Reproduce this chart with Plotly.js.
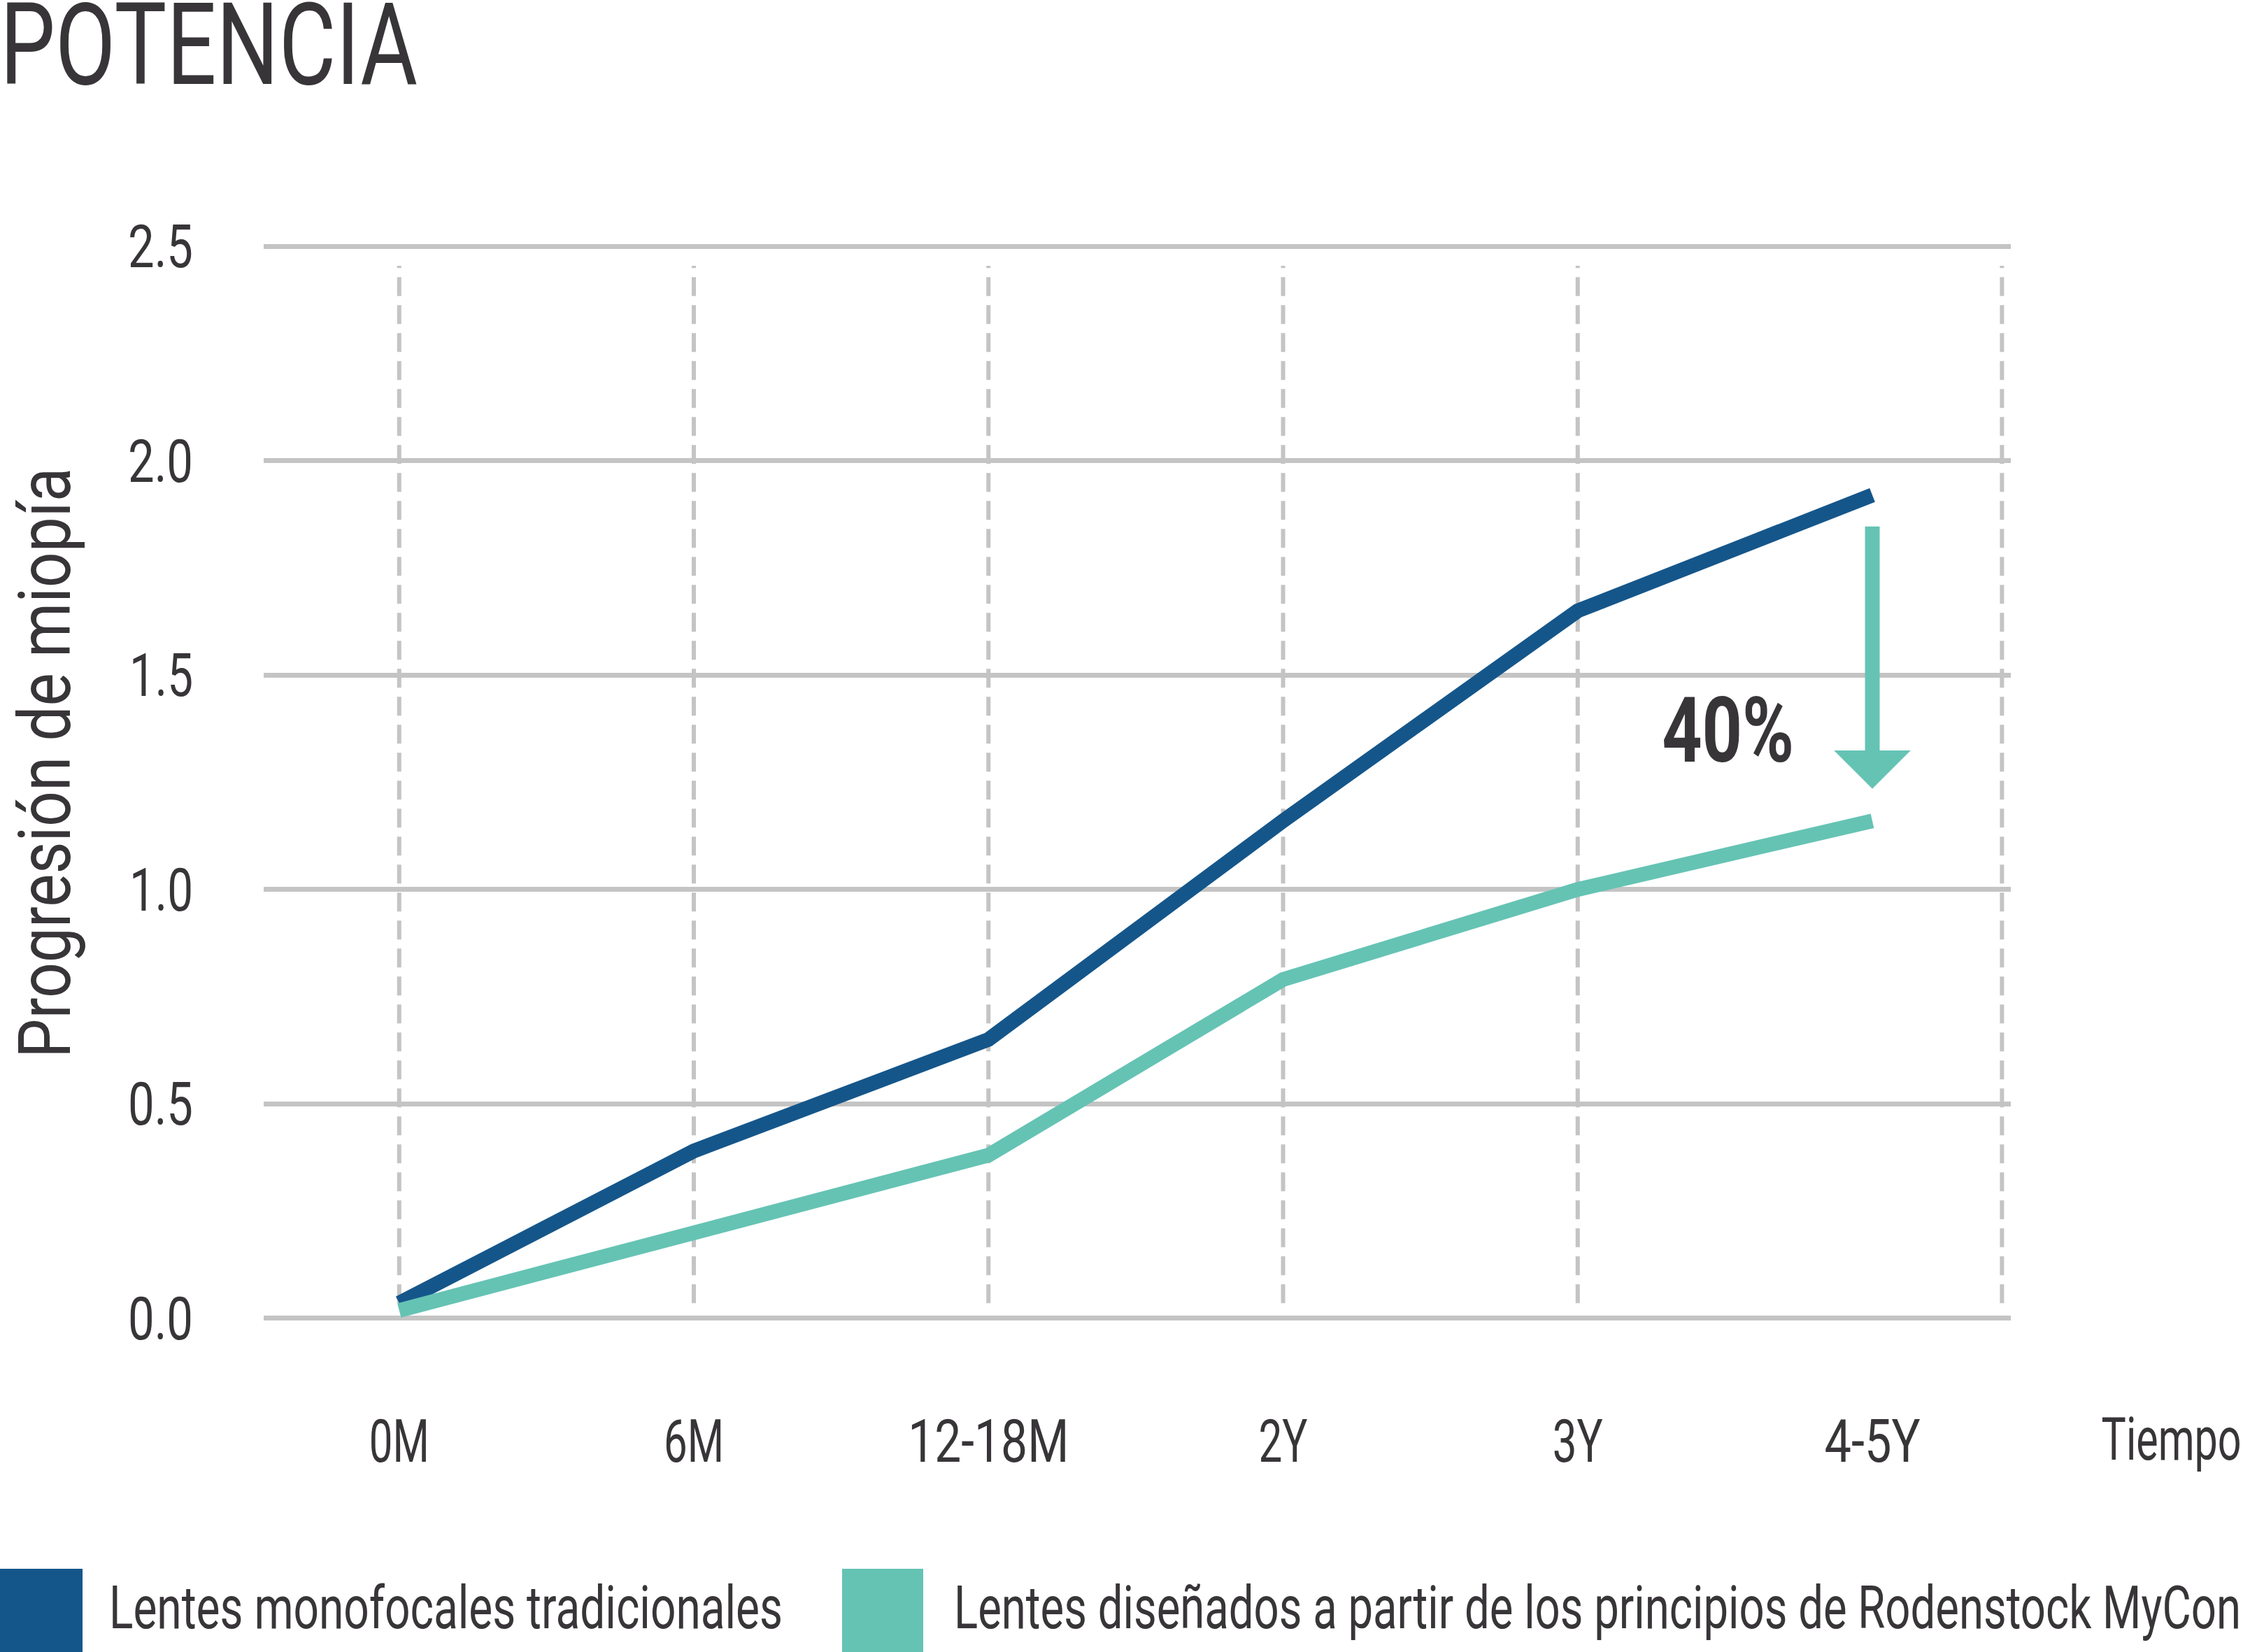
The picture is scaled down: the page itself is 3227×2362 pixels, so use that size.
<!DOCTYPE html>
<html><head><meta charset="utf-8">
<script src="https://cdn.plot.ly/plotly-3.0.1.min.js"></script>
<style>html,body{margin:0;padding:0;background:#fff;overflow:hidden;} #chart{width:3227px;height:2362px;}</style>
</head><body><div id="chart"></div>
<script>
// ---- data ----
const categories = ["0M", "6M", "12-18M", "2Y", "3Y", "4-5Y"];
const catX = [0, 1, 2, 3, 4, 5];
const monofocal = [0.035, 0.39, 0.65, 1.16, 1.65, 1.92];
const myCon = [0.018, 0.20, 0.38, 0.79, 1.00, 1.16];
const seriesNames = ["Lentes monofocales tradicionales", "Lentes diseñados a partir de los principios de Rodenstock MyCon"];
const yTicks = [0, 0.5, 1.0, 1.5, 2.0, 2.5];
const vGridX = [0, 1, 2, 3, 4, 5.44];
const reductionLabel = "40%";
const arrowFrom = 1.85, arrowTo = 1.235;
const timeLabel = "Tiempo";
const yTitle = "Progresión de miopía";
const chartTitle = "POTENCIA";

// ---- style ----
const W = 3227, H = 2362;
const L = 377, R = 352, T = 334, B = 459;
const PW = W - L - R, PH = H - T - B;
const FONT = 'Roboto, "DejaVu Sans", sans-serif';
const TXT = '#383538';
const BLUE = '#15568a', TEAL = '#65c3b4', GRID = '#c4c4c4';
const px = x => (x - L) / PW;
const py = y => (T + PH - y) / PH;
const textWidths = {
  "POTENCIA": 597, "Progresión de miopía": 844, "40%": 189, "Tiempo": 200,
  "0M": 86, "6M": 86, "12-18M": 230, "2Y": 70, "3Y": 72, "4-5Y": 137,
  "0.0": 93, "0.5": 93, "1.0": 91, "1.5": 91, "2.0": 93, "2.5": 93,
  "Lentes monofocales tradicionales": 963,
  "Lentes diseñados a partir de los principios de Rodenstock MyCon": 1840
};

const traces = [
  {x: catX, y: monofocal, type: 'scatter', mode: 'lines', name: seriesNames[0],
   line: {color: BLUE, width: 21}, hoverinfo: 'skip', cliponaxis: false},
  {x: catX, y: myCon, type: 'scatter', mode: 'lines', name: seriesNames[1],
   line: {color: TEAL, width: 21}, hoverinfo: 'skip', cliponaxis: false}
];

const shapes = vGridX.map(v => ({
  type: 'line', xref: 'x', yref: 'y', x0: v, x1: v, y0: 0.035, y1: 2.455,
  line: {color: GRID, width: 6, dash: '27px,13px'}, layer: 'below'
}));
shapes.push({type: 'rect', xref: 'paper', yref: 'paper', x0: px(0), x1: px(118), y0: py(2243), y1: py(2362),
  fillcolor: BLUE, line: {width: 0}});
shapes.push({type: 'rect', xref: 'paper', yref: 'paper', x0: px(1204), x1: px(1320), y0: py(2243), y1: py(2362),
  fillcolor: TEAL, line: {width: 0}});

const annotations = [
  {x: 5, y: arrowTo, ax: 5, ay: arrowFrom, axref: 'x', ayref: 'y', xref: 'x', yref: 'y',
   text: ' ', font: {size: 1}, showarrow: true, arrowhead: 1, arrowsize: 0.87, arrowwidth: 21, arrowcolor: TEAL},
  {x: 4.51, y: 1.37, xref: 'x', yref: 'y', text: reductionLabel, showarrow: false,
   font: {family: FONT, size: 130, color: TXT, weight: 'bold'}, xanchor: 'center', yanchor: 'middle'},
  {x: px(3104), y: py(2058), xref: 'paper', yref: 'paper', text: timeLabel, showarrow: false,
   font: {family: FONT, size: 85, color: TXT}, xanchor: 'center', yanchor: 'middle'},
  {x: px(64), y: py(1091), xref: 'paper', yref: 'paper', text: yTitle, showarrow: false, textangle: -90,
   font: {family: FONT, size: 104, color: TXT}, xanchor: 'center', yanchor: 'middle'},
  {x: px(154), y: py(2298), xref: 'paper', yref: 'paper', text: seriesNames[0], showarrow: false, align: 'left',
   font: {family: FONT, size: 86, color: TXT}, xanchor: 'left', yanchor: 'middle'},
  {x: px(1362), y: py(2298), xref: 'paper', yref: 'paper', text: seriesNames[1], showarrow: false, align: 'left',
   font: {family: FONT, size: 86, color: TXT}, xanchor: 'left', yanchor: 'middle'}
];

const layout = {
  width: W, height: H,
  margin: {l: L, r: R, t: T, b: B, pad: 0},
  paper_bgcolor: '#ffffff', plot_bgcolor: '#ffffff',
  showlegend: false,
  font: {family: FONT, color: TXT},
  title: {text: chartTitle, x: 0, xref: 'container', xanchor: 'left', y: 1, yref: 'container', yanchor: 'top',
          pad: {t: 6, l: 0}, font: {family: FONT, size: 163, color: TXT}},
  xaxis: {range: [-0.46, 5.47], tickvals: catX, ticktext: categories, showgrid: false, zeroline: false,
          showline: false, ticks: '', ticklabelstandoff: 100, tickfont: {family: FONT, size: 86, color: TXT},
          fixedrange: true},
  yaxis: {range: [-0.03, 2.53], tickvals: yTicks, ticktext: yTicks.map(v => v.toFixed(1)), showgrid: true,
          gridcolor: GRID, gridwidth: 7, zeroline: false, showline: false, ticks: '', ticklabelstandoff: 100,
          tickfont: {family: FONT, size: 86, color: TXT}, fixedrange: true},
  shapes: shapes,
  annotations: annotations
};

Plotly.newPlot('chart', traces, layout, {staticPlot: true, displayModeBar: false}).then(gd => {
  gd.querySelectorAll('text').forEach(t => {
    const s = t.textContent;
    if (Object.prototype.hasOwnProperty.call(textWidths, s)) {
      t.setAttribute('textLength', textWidths[s]);
      t.setAttribute('lengthAdjust', 'spacingAndGlyphs');
    }
  });
});
</script>
</body></html>
